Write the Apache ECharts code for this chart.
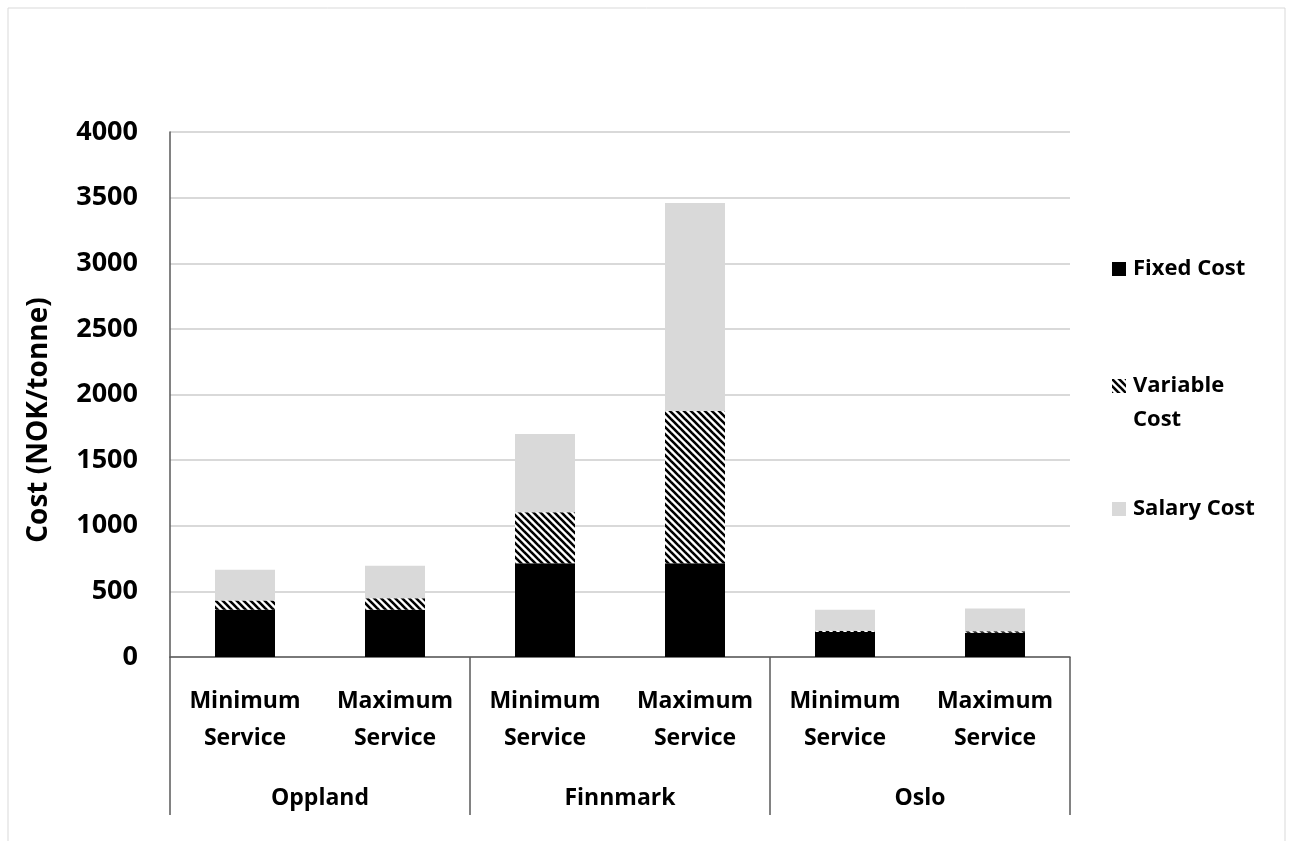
<!DOCTYPE html>
<html>
<head>
<meta charset="utf-8">
<script src="https://cdn.jsdelivr.net/npm/echarts@6/dist/echarts.min.js"></script>
<style>
  html, body { margin: 0; padding: 0; background: #fff; }
  #chart { width: 1293px; height: 841px; }
</style>
</head>
<body>
<div id="chart"></div>
<script>
// Service levels within each region, and the regions themselves
const serviceLevels = ['Minimum\nService', 'Maximum\nService', 'Minimum\nService', 'Maximum\nService', 'Minimum\nService', 'Maximum\nService'];
const regions = ['Oppland', 'Finnmark', 'Oslo'];

// Cost components (NOK/tonne)
const fixedCost    = [360, 360, 715, 715, 190, 185];
const variableCost = [70, 87, 387, 1160, 10, 12];
const salaryCost   = [235, 248, 598, 1585, 160, 173];

const yTicks = { min: 0, max: 4000, interval: 500 };
const yTitle = 'Cost (NOK/tonne)';

const FONT = 'Open Sans';
const AXIS_DARK = '#595959';

// Diagonal hatch used for the variable cost segment
function makeHatch() {
  const size = 7;
  const c = document.createElement('canvas');
  c.width = size; c.height = size;
  const ctx = c.getContext('2d');
  ctx.fillStyle = '#ffffff';
  ctx.fillRect(0, 0, size, size);
  ctx.strokeStyle = '#000000';
  ctx.lineWidth = 2.6;
  [-size, 0, size].forEach(function (o) {
    ctx.beginPath();
    ctx.moveTo(o - 1, -1);
    ctx.lineTo(o + size + 1, size + 1);
    ctx.stroke();
  });
  return { image: c, repeat: 'repeat' };
}
const hatch = makeHatch();

const chart = echarts.init(document.getElementById('chart'), null, { renderer: 'canvas' });

const legendText = { fontFamily: FONT, fontWeight: 'bold', fontSize: 22, color: '#000', padding: [0, 0, 0, 2] };
const legendCommon = { left: 1107, itemWidth: 14, itemHeight: 14, icon: 'rect', selectedMode: false };

chart.setOption({
  animation: false,
  backgroundColor: '#ffffff',
  graphic: [
    {
      type: 'rect',
      shape: { x: 8, y: 8, width: 1277, height: 860 },
      style: { fill: 'none', stroke: '#d9d9d9', lineWidth: 1 },
      silent: true
    },
    {
      // vertical axis title
      type: 'text',
      x: 39, y: 420,
      rotation: Math.PI / 2,
      style: {
        text: yTitle, fill: '#000',
        font: 'bold 28px "' + FONT + '"',
        align: 'center', verticalAlign: 'middle'
      },
      silent: true
    }
  ],
  grid: { left: 170, right: 223, top: 132, bottom: 184, containLabel: false },
  legend: [
    Object.assign({ data: ['Fixed Cost'], top: 253, textStyle: legendText }, legendCommon),
    Object.assign({
      data: ['Variable Cost'], top: 336,
      formatter: function () { return '{a|\u00a0}\n{a|Variable}\n{a|Cost}'; },
      textStyle: Object.assign({}, legendText, { rich: { a: { fontFamily: FONT, fontWeight: 'bold', fontSize: 22, lineHeight: 34, color: '#000' } } })
    }, legendCommon),
    Object.assign({ data: ['Salary Cost'], top: 493, textStyle: legendText }, legendCommon)
  ],
  xAxis: [
    {
      type: 'category',
      data: serviceLevels,
      position: 'bottom',
      axisLine: { show: true, lineStyle: { color: AXIS_DARK, width: 1.5 } },
      axisTick: { show: false },
      axisLabel: {
        interval: 0, margin: 26, color: '#000',
        fontFamily: FONT, fontWeight: 'bold', fontSize: 23, lineHeight: 37
      }
    },
    {
      type: 'category',
      data: regions,
      position: 'bottom',
      offset: 0,
      axisLine: { show: false },
      axisTick: { show: true, interval: 0, length: 158, lineStyle: { color: AXIS_DARK, width: 1.5 } },
      axisLabel: {
        interval: 0, margin: 130, color: '#000',
        fontFamily: FONT, fontWeight: 'bold', fontSize: 23
      }
    }
  ],
  yAxis: {
    type: 'value',
    min: yTicks.min, max: yTicks.max, interval: yTicks.interval,
    axisLine: { show: true, lineStyle: { color: AXIS_DARK, width: 1.5 } },
    axisTick: { show: false },
    axisLabel: {
      margin: 32, color: '#000', fontFamily: FONT, fontWeight: 'bold', fontSize: 27,
      formatter: function (v) { return String(v); }
    },
    splitLine: { show: true, lineStyle: { color: '#d9d9d9', width: 2 } }
  },
  series: [
    {
      name: 'Fixed Cost', type: 'bar', stack: 'cost', xAxisIndex: 0,
      barWidth: '40%', data: fixedCost,
      itemStyle: { color: '#000000' }
    },
    {
      name: 'Variable Cost', type: 'bar', stack: 'cost', xAxisIndex: 0,
      barWidth: '40%', data: variableCost,
      itemStyle: { color: hatch }
    },
    {
      name: 'Salary Cost', type: 'bar', stack: 'cost', xAxisIndex: 0,
      barWidth: '40%', data: salaryCost,
      itemStyle: { color: '#d9d9d9' }
    }
  ]
});
</script>
</body>
</html>
